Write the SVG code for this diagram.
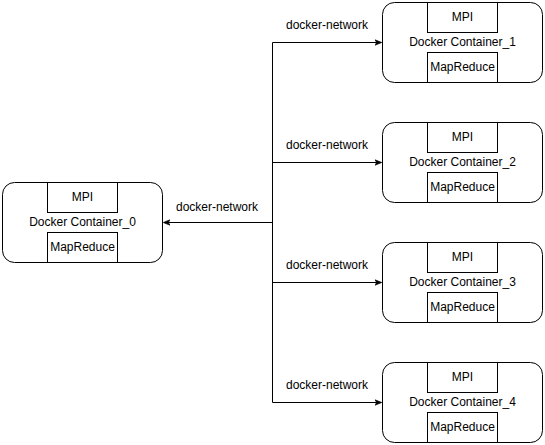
<svg xmlns="http://www.w3.org/2000/svg" width="545" height="445" viewBox="0 0 545 445">
<defs>
<style>
.c{fill:#fff;stroke:#000;stroke-width:1}
.b{fill:#fff;stroke:#000;stroke-width:1}
.t{font-family:"Liberation Sans",Arial,sans-serif;font-size:12px;fill:#000;text-anchor:middle}
.e{fill:none;stroke:#000;stroke-width:1}
</style>
<marker id="a" viewBox="0 0 10 10" refX="9" refY="5" markerWidth="7" markerHeight="7" orient="auto" markerUnits="userSpaceOnUse">
<path d="M0,1 L10,5 L0,9 L3,5 Z" fill="#000" stroke="#000"/>
</marker>
</defs>
<rect width="545" height="445" fill="#fff"/>
<g id="edges">
<path class="e" d="M272.5,222.5 H164" marker-end="url(#a)"/>
<path class="e" d="M272.5,42.5 V402.5"/>
<path class="e" d="M272.5,42.5 H381" marker-end="url(#a)"/>
<path class="e" d="M272.5,162.5 H381" marker-end="url(#a)"/>
<path class="e" d="M272.5,282.5 H381" marker-end="url(#a)"/>
<path class="e" d="M272.5,402.5 H381" marker-end="url(#a)"/>
<text class="t" x="217" y="211">docker-network</text>
<text class="t" x="327" y="29">docker-network</text>
<text class="t" x="327" y="149">docker-network</text>
<text class="t" x="327" y="269">docker-network</text>
<text class="t" x="327" y="389">docker-network</text>
</g>
<g id="container0">
<rect class="c" x="2.5" y="182.5" width="160" height="80" rx="12"/>
<rect class="b" x="47.5" y="182.5" width="70" height="30"/>
<rect class="b" x="47.5" y="232.5" width="70" height="30"/>
<text class="t" x="82.5" y="201">MPI</text>
<text class="t" x="82.5" y="226">Docker Container_0</text>
<text class="t" x="82.5" y="251">MapReduce</text>
</g>
<g id="container1">
<rect class="c" x="382.5" y="2.5" width="160" height="80" rx="12"/>
<rect class="b" x="427.5" y="2.5" width="70" height="30"/>
<rect class="b" x="427.5" y="52.5" width="70" height="30"/>
<text class="t" x="462.5" y="21">MPI</text>
<text class="t" x="462.5" y="46">Docker Container_1</text>
<text class="t" x="462.5" y="71">MapReduce</text>
</g>
<g id="container2">
<rect class="c" x="382.5" y="122.5" width="160" height="80" rx="12"/>
<rect class="b" x="427.5" y="122.5" width="70" height="30"/>
<rect class="b" x="427.5" y="172.5" width="70" height="30"/>
<text class="t" x="462.5" y="141">MPI</text>
<text class="t" x="462.5" y="166">Docker Container_2</text>
<text class="t" x="462.5" y="191">MapReduce</text>
</g>
<g id="container3">
<rect class="c" x="382.5" y="242.5" width="160" height="80" rx="12"/>
<rect class="b" x="427.5" y="242.5" width="70" height="30"/>
<rect class="b" x="427.5" y="292.5" width="70" height="30"/>
<text class="t" x="462.5" y="261">MPI</text>
<text class="t" x="462.5" y="286">Docker Container_3</text>
<text class="t" x="462.5" y="311">MapReduce</text>
</g>
<g id="container4">
<rect class="c" x="382.5" y="362.5" width="160" height="80" rx="12"/>
<rect class="b" x="427.5" y="362.5" width="70" height="30"/>
<rect class="b" x="427.5" y="412.5" width="70" height="30"/>
<text class="t" x="462.5" y="381">MPI</text>
<text class="t" x="462.5" y="406">Docker Container_4</text>
<text class="t" x="462.5" y="431">MapReduce</text>
</g>
</svg>
